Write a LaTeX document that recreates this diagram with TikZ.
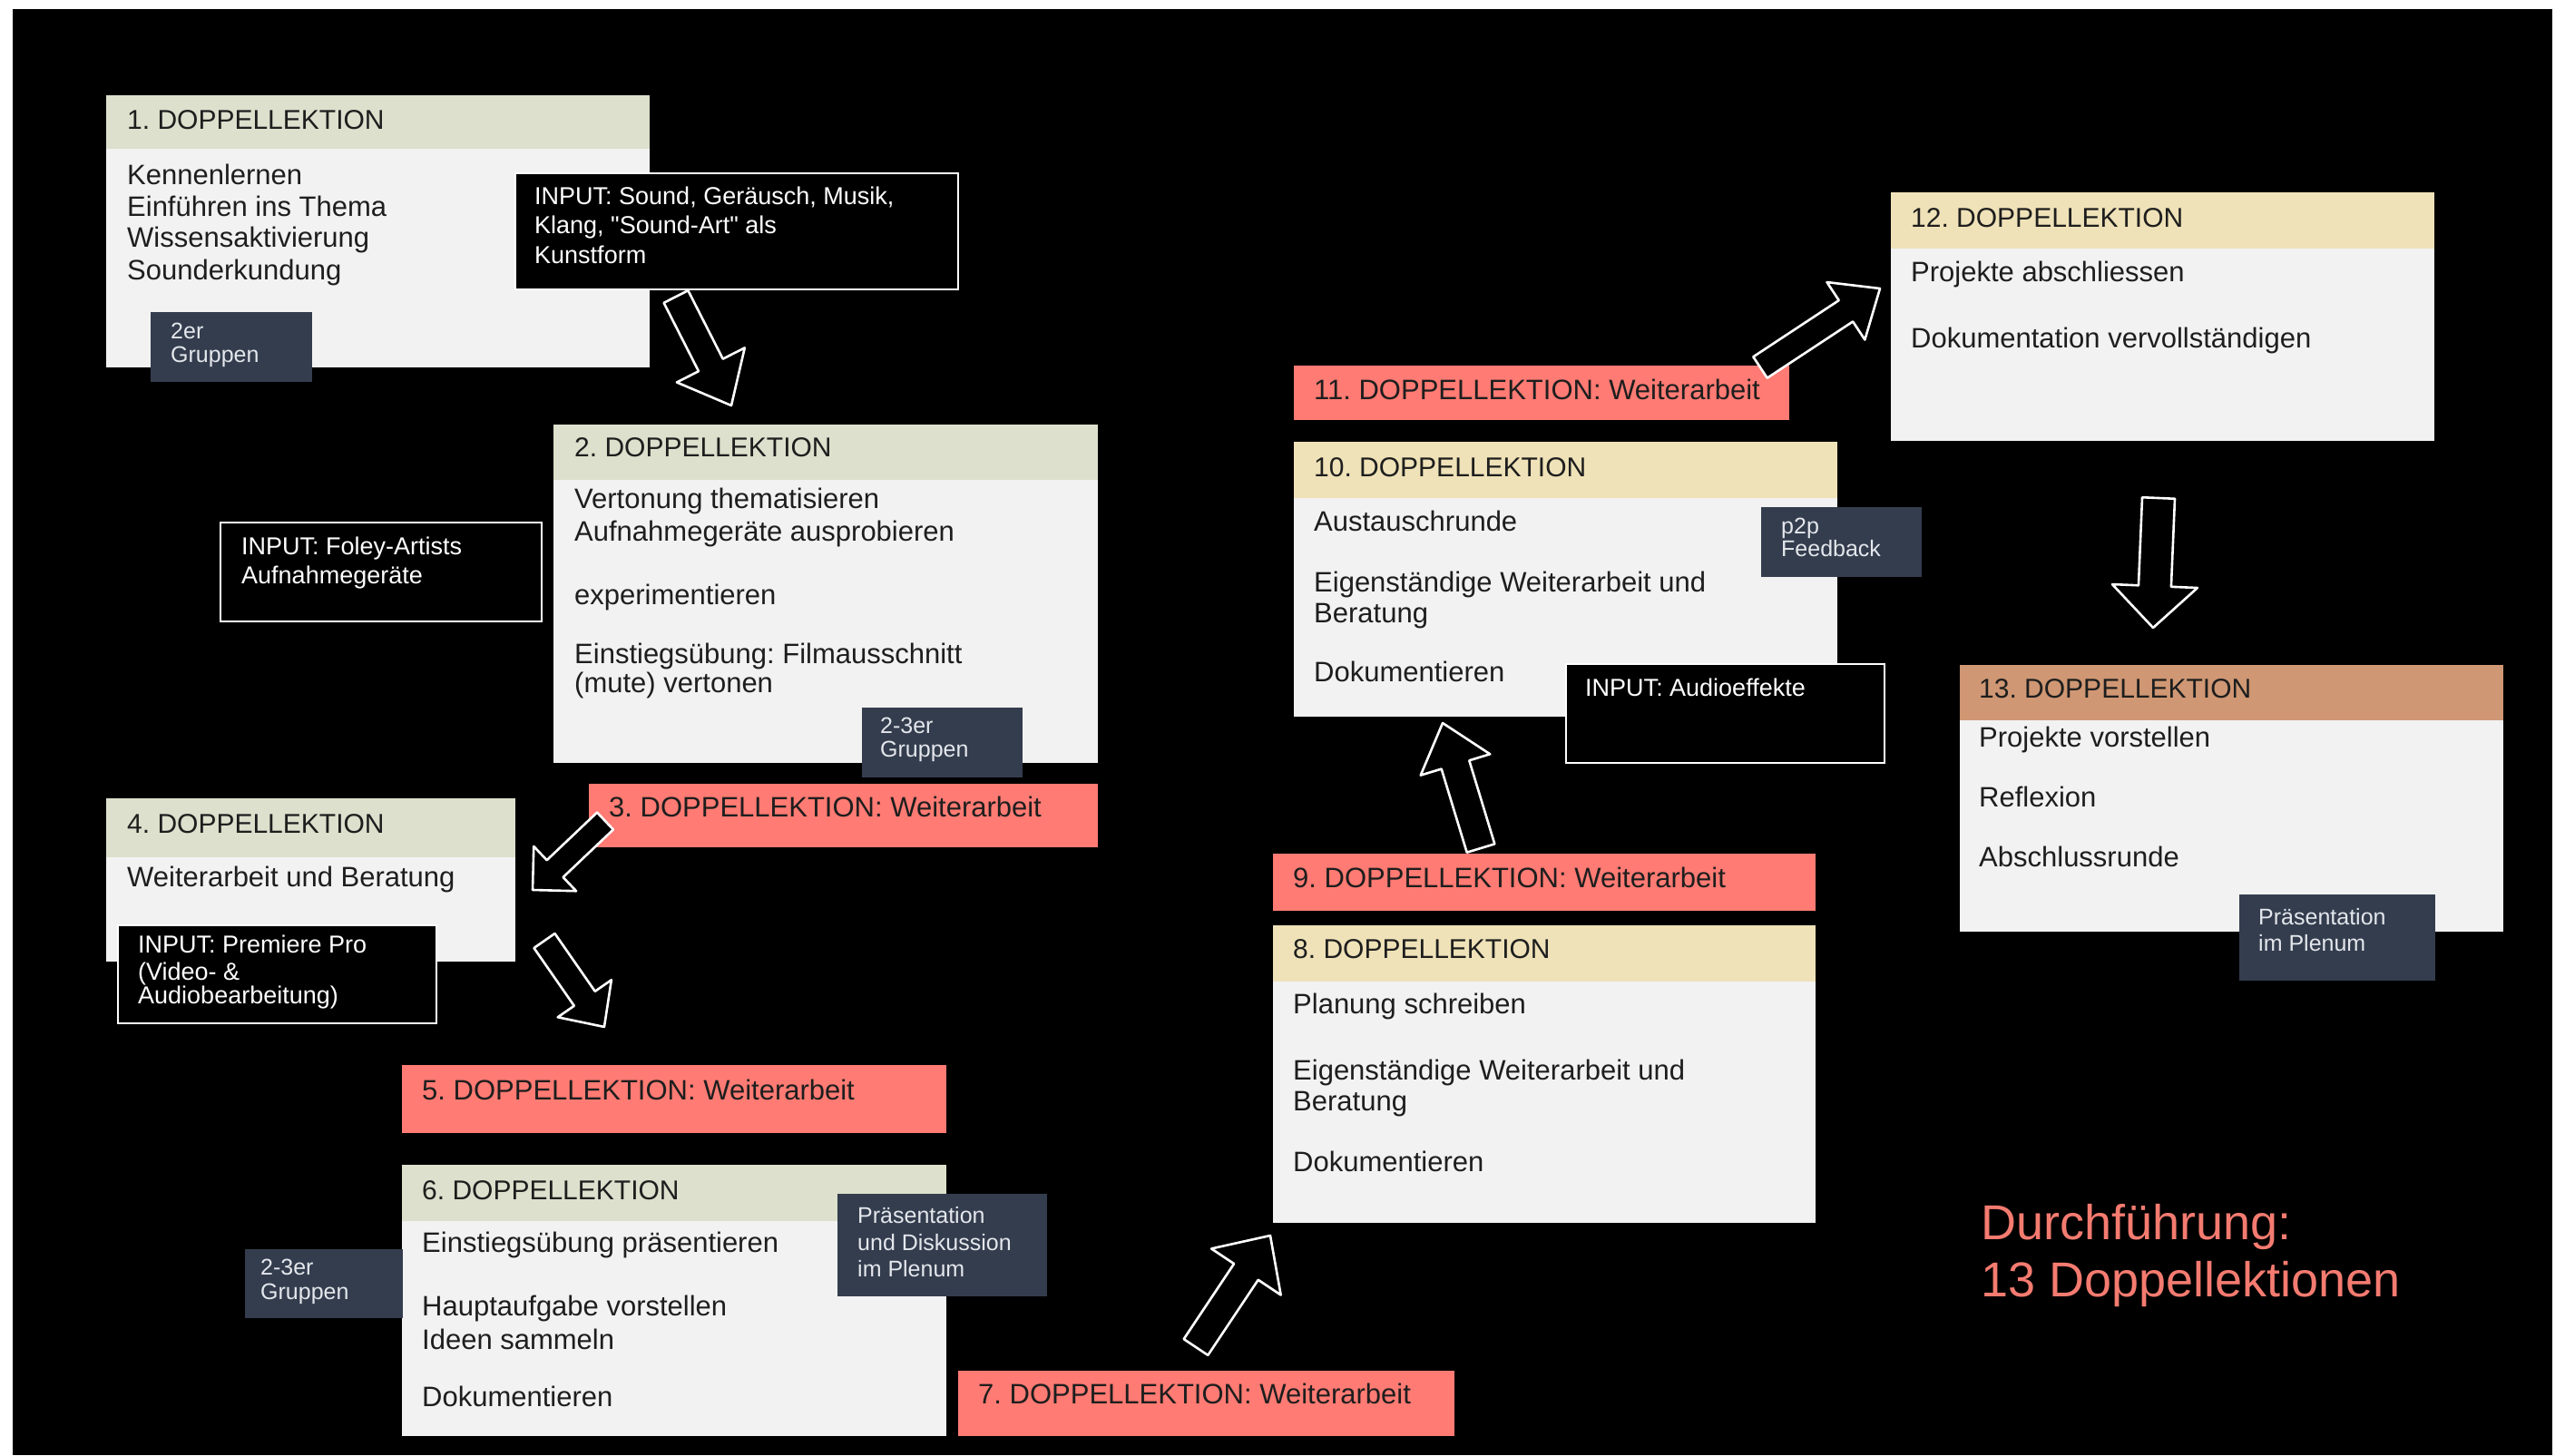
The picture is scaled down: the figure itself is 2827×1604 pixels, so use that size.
\documentclass[tikz,border=0pt]{standalone}
\usepackage{fontspec}
\setmainfont{Liberation Sans}[Ligatures=TeXOff]
\usetikzlibrary{calc}
\frenchspacing
\definecolor{hgreen}{HTML}{DCE0CC}
\definecolor{hbeige}{HTML}{EFE2B8}
\definecolor{htan}{HTML}{CF9773}
\definecolor{bodyc}{HTML}{F2F2F2}
\definecolor{redbar}{HTML}{FF7B73}
\definecolor{slate}{HTML}{343D4E}
\definecolor{titlec}{HTML}{F47B70}
\definecolor{ink}{HTML}{1E1E1E}
\definecolor{pale}{HTML}{E4E7EC}
\tikzset{
  txt/.style={anchor=base west, inner sep=0pt, text=ink, font=\fontsize{31}{34}\selectfont},
  hd/.style={anchor=base west, inner sep=0pt, text=ink, font=\fontsize{30}{33}\selectfont},
  inp/.style={anchor=base west, inner sep=0pt, text=white, font=\fontsize{27}{30}\selectfont},
  sm/.style={anchor=base west, inner sep=0pt, text=pale, font=\fontsize{25}{28}\selectfont},
  ttl/.style={anchor=base west, inner sep=0pt, text=titlec, font=\fontsize{54}{60}\selectfont},
  inbox/.style={fill=black, draw=white, line width=2.5pt},
  harrow/.style={draw=white, line width=2.6pt, line join=round, fill=black},
}
\newcommand\handarrow[5]{%
  \draw[harrow] let \p1=($(#2)-(#1)$), \n1={atan2(\y1,\x1)}, \n2={veclen(\x1,\y1)} in
  [shift={(#1)}, rotate=\n1]
  (0pt,-#3pt) -- ({\n2-#5pt},-#3pt) -- ({\n2-#5pt},-#4pt) -- ({\n2},0pt)
  -- ({\n2-#5pt},#4pt) -- ({\n2-#5pt},#3pt) -- (0pt,#3pt) -- cycle;}
\begin{document}
\begin{tikzpicture}[x=1pt,y=-1pt]
\useasboundingbox (0,0) rectangle (2827,1604);
\fill[white] (0,0) rectangle (2827,1604);
\fill[black] (14,10) rectangle (2813,1604);

% ---------- Box 1
\fill[hgreen] (117,105) rectangle (716,164);
\fill[bodyc] (117,164) rectangle (716,405);
\node[hd] (h1) at (140,142) {1. DOPPELLEKTION};
\node[txt] (b1a) at (140,203) {Kennenlernen};
\node[txt] (b1b) at (140,238) {Einführen ins Thema};
\node[txt] (b1c) at (140,272) {Wissensaktivierung};
\node[txt] (b1d) at (140,308) {Sounderkundung};
\fill[slate] (166,344) rectangle (344,421);
\node[sm] (g1a) at (188,373) {2er};
\node[sm] (g1b) at (188,399) {Gruppen};
\draw[inbox] (568,191) rectangle (1056,319);
\node[inp] (i1a) at (589,225) {INPUT: Sound, Geräusch, Musik,};
\node[inp] (i1b) at (589,257) {Klang, "Sound-Art" als};
\node[inp] (i1c) at (589,290) {Kunstform};

% ---------- Box 2
\fill[hgreen] (610,468) rectangle (1210,529);
\fill[bodyc] (610,529) rectangle (1210,841);
\node[hd] (h2) at (633,503) {2. DOPPELLEKTION};
\node[txt] (b2a) at (633,560) {Vertonung thematisieren};
\node[txt] (b2b) at (633,596) {Aufnahmegeräte ausprobieren};
\node[txt] (b2c) at (633,666) {experimentieren};
\node[txt] (b2d) at (633,731) {Einstiegsübung: Filmausschnitt};
\node[txt] (b2e) at (633,763) {(mute) vertonen};
\fill[slate] (950,780) rectangle (1127,857);
\node[sm] (g2a) at (970,808) {2-3er};
\node[sm] (g2b) at (970,834) {Gruppen};
\draw[inbox] (243,576) rectangle (597,685);
\node[inp] (i2a) at (266,611) {INPUT: Foley-Artists};
\node[inp] (i2b) at (266,643) {Aufnahmegeräte};

% ---------- Box 3
\fill[redbar] (649,864) rectangle (1210,934);
\node[txt] (r3) at (671,900) {3. DOPPELLEKTION: Weiterarbeit};

% ---------- Box 4
\fill[hgreen] (117,880) rectangle (568,945);
\fill[bodyc] (117,945) rectangle (568,1060);
\node[hd] (h4) at (140,918) {4. DOPPELLEKTION};
\node[txt] (b4a) at (140,977) {Weiterarbeit und Beratung};
\draw[inbox] (130,1020) rectangle (481,1128);
\node[inp] (i3a) at (152,1050) {INPUT: Premiere Pro};
\node[inp] (i3b) at (152,1080) {(Video- \&};
\node[inp] (i3c) at (152,1106) {Audiobearbeitung)};

% ---------- Box 5
\fill[redbar] (443,1174) rectangle (1043,1249);
\node[txt] (r5) at (465,1212) {5. DOPPELLEKTION: Weiterarbeit};

% ---------- Box 6
\fill[hgreen] (443,1284) rectangle (1043,1346);
\fill[bodyc] (443,1346) rectangle (1043,1583);
\node[hd] (h6) at (465,1322) {6. DOPPELLEKTION};
\node[txt] (b6a) at (465,1380) {Einstiegsübung präsentieren};
\node[txt] (b6b) at (465,1450) {Hauptaufgabe vorstellen};
\node[txt] (b6c) at (465,1487) {Ideen sammeln};
\node[txt] (b6d) at (465,1550) {Dokumentieren};
\fill[slate] (923,1316) rectangle (1154,1429);
\node[sm] (p6a) at (945,1348) {Präsentation};
\node[sm] (p6b) at (945,1378) {und Diskussion};
\node[sm] (p6c) at (945,1407) {im Plenum};
\fill[slate] (270,1377) rectangle (444,1453);
\node[sm] (g6a) at (287,1405) {2-3er};
\node[sm] (g6b) at (287,1432) {Gruppen};

% ---------- Box 7
\fill[redbar] (1056,1511) rectangle (1603,1583);
\node[txt] (r7) at (1078,1547) {7. DOPPELLEKTION: Weiterarbeit};

% ---------- Box 8
\fill[hbeige] (1403,1020) rectangle (2001,1082);
\fill[bodyc] (1403,1082) rectangle (2001,1348);
\node[hd] (h8) at (1425,1056) {8. DOPPELLEKTION};
\node[txt] (b8a) at (1425,1117) {Planung schreiben};
\node[txt] (b8b) at (1425,1190) {Eigenständige Weiterarbeit und};
\node[txt] (b8c) at (1425,1224) {Beratung};
\node[txt] (b8d) at (1425,1291) {Dokumentieren};

% ---------- Box 9
\fill[redbar] (1403,941) rectangle (2001,1004);
\node[txt] (r9) at (1425,978) {9. DOPPELLEKTION: Weiterarbeit};

% ---------- Box 10
\fill[hbeige] (1426,487) rectangle (2025,549);
\fill[bodyc] (1426,549) rectangle (2025,790);
\node[hd] (h10) at (1448,525) {10. DOPPELLEKTION};
\node[txt] (b10a) at (1448,585) {Austauschrunde};
\node[txt] (b10b) at (1448,652) {Eigenständige Weiterarbeit und};
\node[txt] (b10c) at (1448,686) {Beratung};
\node[txt] (b10d) at (1448,751) {Dokumentieren};
\fill[slate] (1941,559) rectangle (2118,636);
\node[sm] (f10a) at (1963,588) {p2p};
\node[sm] (f10b) at (1963,613) {Feedback};
\draw[inbox] (1726,732) rectangle (2077,841);
\node[inp] (i4a) at (1747,767) {INPUT: Audioeffekte};

% ---------- Box 11
\fill[redbar] (1426,403) rectangle (1972,463);
\node[txt] (r11) at (1448,440) {11. DOPPELLEKTION: Weiterarbeit};

% ---------- Box 12
\fill[hbeige] (2084,212) rectangle (2683,274);
\fill[bodyc] (2084,274) rectangle (2683,486);
\node[hd] (h12) at (2106,250) {12. DOPPELLEKTION};
\node[txt] (b12a) at (2106,310) {Projekte abschliessen};
\node[txt] (b12b) at (2106,383) {Dokumentation vervollständigen};

% ---------- Box 13
\fill[htan] (2160,733) rectangle (2759,794);
\fill[bodyc] (2160,794) rectangle (2759,1027);
\node[hd] (h13) at (2181,769) {13. DOPPELLEKTION};
\node[txt] (b13a) at (2181,823) {Projekte vorstellen};
\node[txt] (b13b) at (2181,889) {Reflexion};
\node[txt] (b13c) at (2181,955) {Abschlussrunde};
\fill[slate] (2468,986) rectangle (2684,1081);
\node[sm] (p13a) at (2489,1019) {Präsentation};
\node[sm] (p13b) at (2489,1048) {im Plenum};

% ---------- Title
\node[ttl] (t1) at (2183,1366) {Durchführung:};
\node[ttl] (t2) at (2183,1429) {13 Doppellektionen};

% ---------- Hand-drawn arrows
\coordinate (a1s) at (745,327);  \coordinate (a1e) at (806,447);
\coordinate (a2s) at (667,905);  \coordinate (a2e) at (587,981);
\coordinate (a3s) at (600,1037); \coordinate (a3e) at (666,1132);
\coordinate (a4s) at (1318,1485);\coordinate (a4e) at (1400,1362);
\coordinate (a5s) at (1632,935); \coordinate (a5e) at (1590,797);
\coordinate (a6s) at (1940,405); \coordinate (a6e) at (2072,318);
\coordinate (a7s) at (2379,549); \coordinate (a7e) at (2373,692);
\handarrow{a1s}{a1e}{15}{42}{50}
\handarrow{a2s}{a2e}{13}{34}{34}
\handarrow{a3s}{a3e}{14}{36}{38}
\handarrow{a4s}{a4e}{16}{46}{48}
\handarrow{a5s}{a5e}{16}{40}{48}
\handarrow{a6s}{a6e}{14}{38}{45}
\handarrow{a7s}{a7e}{18}{47}{46}
\end{tikzpicture}
\end{document}
